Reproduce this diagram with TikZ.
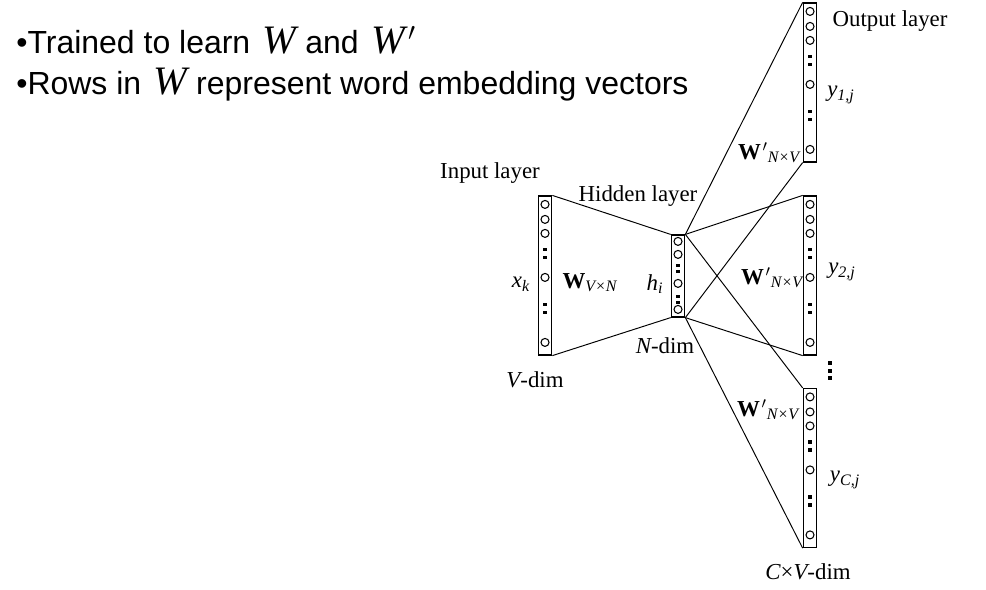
\documentclass[tikz,border=0pt]{standalone}
\usepackage{fontspec}
\setmainfont{Liberation Serif}
\newfontfamily\slidefont{Liberation Sans}
\usetikzlibrary{positioning}

\tikzset{
  bar/.style={draw, line width=0.7pt, minimum width=0.27cm, inner sep=0pt},
  unit/.style={line width=0.6pt},
  wire/.style={line width=0.55pt},
  lbl/.style={font=\fontsize{13}{15}\selectfont, inner sep=0pt},
  slide/.style={font=\slidefont\fontsize{18.2}{21}\selectfont, anchor=west, inner sep=0pt},
}
\newcommand{\Wprime}{\textbf{W}\kern1pt$'$\textsubscript{\itshape N\texttimes V}}
\newcommand{\bigW}{\hspace{2pt}{\rmfamily\itshape\fontsize{23}{23}\selectfont W}}
\newcommand{\bigprime}{\hspace{2pt}{\fontsize{22}{22}\selectfont$'$}}

\begin{document}
\begin{tikzpicture}[x=0.02cm, y=-0.02cm]
\useasboundingbox (0,0) rectangle (986,589);

% slide text
\node[slide] (l1) at (16,40) {\textbullet Trained to learn \bigW\ and \bigW\bigprime};
\node[slide] (l2) at (16,85) {\textbullet Rows in \bigW\ represent word embedding vectors};

% layers
\node[bar, minimum height=3.18cm] (inl) at (545,275.5) {};
\node[bar, minimum height=1.64cm] (hid) at (678,276) {};
\node[bar, minimum height=3.18cm] (out1) at (810,82.5) {};
\node[bar, minimum height=3.18cm] (out2) at (810,275.5) {};
\node[bar, minimum height=3.18cm] (outc) at (810,468) {};

% units
\foreach \b in {inl,out1,out2,outc} {
  \foreach \d in {9,24,38,82,147}
    \draw[unit] ([yshift=-\d*0.02cm]\b.north) circle (0.08cm);
  \foreach \d in {54,62,109,117}
    \fill ([yshift=-\d*0.02cm]\b.north) +(-1.6,-1.6) rectangle +(1.6,1.6);
}
\foreach \d in {7,20,49,75}
  \draw[unit] ([yshift=-\d*0.02cm]hid.north) circle (0.08cm);
\foreach \d in {31,37,62,68}
  \fill ([yshift=-\d*0.02cm]hid.north) +(-1.6,-1.6) rectangle +(1.6,1.6);

% weights
\draw[wire] (inl.north east) -- (hid.north west);
\draw[wire] (inl.south east) -- (hid.south west);
\foreach \o in {out1,out2,outc} {
  \draw[wire] (hid.north east) -- (\o.north west);
  \draw[wire] (hid.south east) -- (\o.south west);
}
\foreach \y in {363,371,378}
  \fill (830,\y) +(-1.6,-1.6) rectangle +(1.6,1.6);

% labels
\node[lbl] (inlbl) at (490,173) {Input layer};
\node[lbl] (hidlbl) at (638,196) {Hidden layer};
\node[lbl] (outlbl) at (890,21) {Output layer};
\node[lbl] (xk) at (521,284) {\itshape x\textsubscript{k}};
\node[lbl] (win) at (590,283) {\textbf{W}\textsubscript{\itshape V\texttimes N}};
\node[lbl] (hi) at (655,284) {\itshape h\textsubscript{i}};
\node[lbl] (ndim) at (665,346) {\itshape N\upshape-dim};
\node[lbl] (vdim) at (535,380) {\itshape V\upshape-dim};
\node[lbl] (w1) at (769,153) {\Wprime};
\node[lbl] (w2) at (772,278) {\Wprime};
\node[lbl] (wc) at (768,410) {\Wprime};
\node[lbl] (y1) at (841,95) {\itshape y\textsubscript{1,j}};
\node[lbl] (y2) at (842,272) {\itshape y\textsubscript{2,j}};
\node[lbl] (yc) at (845,480) {\itshape y\textsubscript{C,j}};
\node[lbl] (cvdim) at (808,572) {\itshape C\upshape\texttimes\itshape V\upshape-dim};
\end{tikzpicture}
\end{document}
